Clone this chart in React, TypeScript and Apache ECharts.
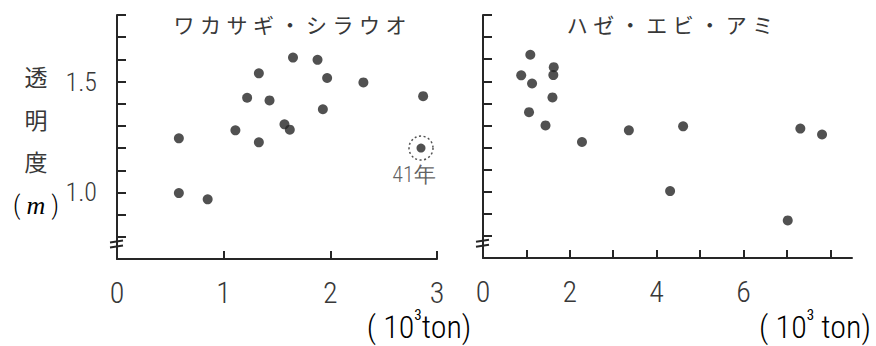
import React, { useEffect, useRef } from "react";
import * as echarts from "echarts";

const SP = "\u2009\u200A";
const leftTitle = ["ワ", "カ", "サ", "ギ", "・", "シ", "ラ", "ウ", "オ"].join(SP);
const rightTitle = ["ハ", "ゼ", "・", "エ", "ビ", "・", "ア", "ミ"].join(SP);
const yTickValues = [0.8, 0.9, 1.0, 1.1, 1.2, 1.3, 1.4, 1.5, 1.6, 1.7, 1.8];
const yLabelValues = [1.0, 1.5];
const leftXTicks = [1, 2, 3];
const leftXLabels = [0, 1, 2, 3];
const rightXTicks = [1, 2, 3, 4, 5, 6, 7, 8];
const rightXLabels = [0, 2, 4, 6];

// ワカサギ・シラウオ catch (10^3 ton) vs transparency (m)
const smeltCatch = [0.58, 0.58, 0.85, 1.11, 1.22, 1.33, 1.33, 1.43, 1.57, 1.62, 1.65, 1.88, 1.97, 1.93, 2.31, 2.87];
const smeltClarity = [1.244, 0.997, 0.969, 1.28, 1.427, 1.537, 1.226, 1.415, 1.307, 1.283, 1.608, 1.598, 1.516, 1.375, 1.496, 1.434];
const highlightCatch = [2.85];
const highlightClarity = [1.2];
const highlightLabel = "41年";

// ハゼ・エビ・アミ catch (10^3 ton) vs transparency (m)
const gobyCatch = [0.88, 1.09, 1.13, 1.06, 1.44, 1.63, 1.62, 1.6, 2.28, 3.36, 4.61, 4.31, 7.02, 7.31, 7.81];
const gobyClarity = [1.527, 1.62, 1.49, 1.36, 1.3, 1.564, 1.528, 1.427, 1.225, 1.278, 1.296, 1.003, 0.87, 1.286, 1.259];

const INK = "#262626";
const TXT = "#383838";
const NARROW = "'Roboto Condensed', 'DejaVu Sans Condensed', sans-serif";
const CJK = "'Noto Sans CJK JP', 'Noto Sans', sans-serif";

function zip(a: number[], b: number[]) {
  return a.map((v, i) => [v, b[i]]);
}

export default function App() {
  const ref = useRef<HTMLDivElement>(null);
  useEffect(() => {
    if (!ref.current) return;
    const chart = echarts.init(ref.current, undefined, { renderer: "svg" });

    const yAxisBase = (gridIndex: number, showLabels: boolean) => ({
      type: "value",
      gridIndex,
      min: 0.7,
      max: 1.8,
      axisLine: { show: true, lineStyle: { color: INK, width: 2 } },
      axisTick: { show: true, inside: true, length: 9, customValues: yTickValues, lineStyle: { color: INK, width: 2 } },
      axisLabel: {
        show: showLabels,
        customValues: yLabelValues,
        formatter: (v: number) => v.toFixed(1),
        fontSize: 26,
        fontWeight: 300,
        fontFamily: NARROW,
        color: TXT,
        margin: 20,
        padding: [16, 0, 0, 0],
      },
      splitLine: { show: false },
    });

    const xAxisBase = (gridIndex: number, max: number, ticks: number[], labels: number[]) => ({
      type: "value",
      gridIndex,
      min: 0,
      max,
      axisLine: { show: true, onZero: false, lineStyle: { color: INK, width: 2 } },
      axisTick: { show: true, inside: true, length: 8, customValues: ticks, lineStyle: { color: INK, width: 2 } },
      axisLabel: {
        show: true,
        customValues: labels,
        fontSize: 30,
        fontWeight: 300,
        fontFamily: NARROW,
        color: TXT,
        margin: 18,
      },
      splitLine: { show: false },
    });

    const dot = { color: INK };

    chart.setOption({
      animation: false,
      backgroundColor: "#ffffff",
      grid: [
        { left: 117, top: 15, width: 320, height: 244 },
        { left: 483, top: 15, width: 369, height: 243 },
      ],
      xAxis: [xAxisBase(0, 3, leftXTicks, leftXLabels), xAxisBase(1, 8.5, rightXTicks, rightXLabels)],
      yAxis: [yAxisBase(0, true), yAxisBase(1, false)],
      title: [
        { text: leftTitle, left: 285, top: 8, textAlign: "center", textStyle: { fontFamily: CJK, fontSize: 21, fontWeight: 400, color: TXT } },
        { text: rightTitle, left: 665, top: 8, textAlign: "center", textStyle: { fontFamily: CJK, fontSize: 21, fontWeight: 400, color: TXT } },
      ],
      series: [
        { type: "scatter", xAxisIndex: 0, yAxisIndex: 0, data: zip(smeltCatch, smeltClarity), symbolSize: 10, itemStyle: dot },
        { type: "scatter", xAxisIndex: 0, yAxisIndex: 0, data: zip(highlightCatch, highlightClarity), symbolSize: 9, itemStyle: dot },
        {
          type: "scatter",
          xAxisIndex: 0,
          yAxisIndex: 0,
          data: zip(highlightCatch, highlightClarity),
          symbolSize: 24,
          itemStyle: { color: "transparent", borderColor: INK, borderWidth: 1.5, borderType: [2, 2.5] },
          label: {
            show: true,
            position: "bottom",
            distance: 3,
            offset: [-7, 0],
            formatter: () => highlightLabel,
            fontFamily: NARROW,
            fontSize: 22,
            fontWeight: 300,
            color: TXT,
          },
        },
        { type: "scatter", xAxisIndex: 1, yAxisIndex: 1, data: zip(gobyCatch, gobyClarity), symbolSize: 10, itemStyle: dot },
      ],
    });

    const brk = (xi: number) => {
      const p = chart.convertToPixel({ xAxisIndex: xi, yAxisIndex: xi }, [0, 0.765]) as number[];
      return [
        { type: "line", shape: { x1: p[0] - 7, y1: p[1] - 2, x2: p[0] + 6, y2: p[1] - 4 }, style: { stroke: INK, lineWidth: 2 } },
        { type: "line", shape: { x1: p[0] - 7, y1: p[1] + 3, x2: p[0] + 6, y2: p[1] + 1 }, style: { stroke: INK, lineWidth: 2 } },
      ];
    };

    const unitRich = {
      a: { fontFamily: NARROW, fontSize: 32, fontWeight: 300, color: TXT },
      s: { fontFamily: NARROW, fontSize: 15, fontWeight: 400, color: TXT, padding: [0, 0, 24, 0] },
    };

    const cjkChar = (ch: string, y: number) => ({
      type: "text",
      x: 36,
      y,
      style: { text: ch, font: `400 23px ${CJK}`, fill: TXT, align: "center", verticalAlign: "middle" },
    });

    chart.setOption({
      graphic: [
        ...brk(0),
        ...brk(1),
        cjkChar("透", 76),
        cjkChar("明", 119),
        cjkChar("度", 161),
        {
          type: "text",
          x: 36,
          y: 205,
          style: {
            text: "{p|(}{m|m}{p|)}",
            align: "center",
            verticalAlign: "middle",
            rich: {
              p: { fontFamily: NARROW, fontSize: 26, fontWeight: 300, color: TXT },
              m: { fontFamily: "'Liberation Serif', 'DejaVu Serif', serif", fontSize: 26, fontStyle: "italic", color: TXT, padding: [0, 6, 0, 6] },
            },
          },
        },
        {
          type: "text",
          x: 419,
          y: 327,
          style: { text: "{a|( 10}{s|3}{a|ton)}", align: "center", verticalAlign: "middle", rich: unitRich },
        },
        {
          type: "text",
          x: 815,
          y: 327,
          style: { text: "{a|( 10}{s|3}{a| ton)}", align: "center", verticalAlign: "middle", rich: unitRich },
        },
      ],
    });

    return () => chart.dispose();
  }, []);
  return <div ref={ref} style={{ position: "fixed", left: 0, top: 0, width: 876, height: 346 }} />;
}
